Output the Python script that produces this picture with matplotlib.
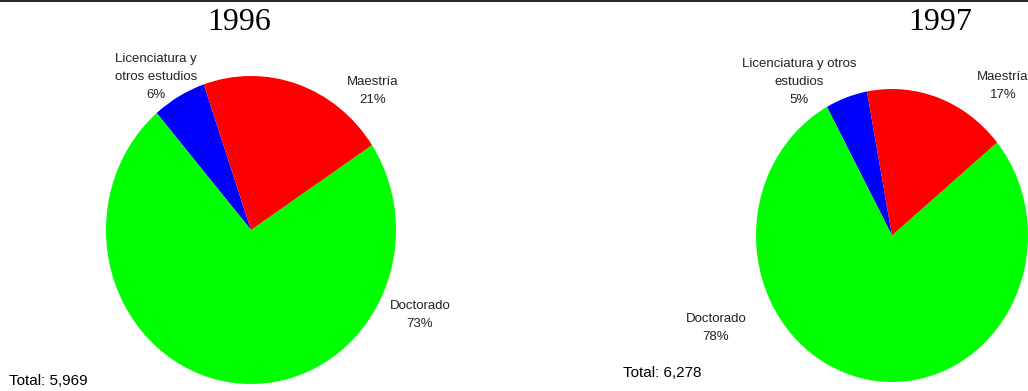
import matplotlib.pyplot as plt
from matplotlib.lines import Line2D

W, H = 1028, 391

categories = ['Licenciatura y otros estudios', 'Doctorado', 'Maestría']
colors = ['#0000FF', '#00FF00', '#FF0000']

years = ['1996', '1997']
counts_1996 = [358, 4358, 1253]
counts_1997 = [314, 4897, 1067]
totals = ['5,969', '6,278']

# label text as it appears in each chart
labels_1996 = ['Licenciatura y\notros estudios', 'Doctorado', 'Maestría']
labels_1997 = ['Licenciatura y otros\nestudios', 'Doctorado', 'Maestría']


def px(x, y):
    return x / W, 1 - y / H


def box(x0, y0, x1, y1):
    return [x0 / W, 1 - y1 / H, (x1 - x0) / W, (y1 - y0) / H]


plt.rcParams['font.family'] = ['Liberation Sans', 'DejaVu Sans']
fig = plt.figure(figsize=(W / 100, H / 100), dpi=100)

pies = [
    (counts_1996, labels_1996, box(106, 76, 396, 384), 109.0),
    (counts_1997, labels_1997, box(756, 89, 1028, 382), 100.6),
]
for counts, labs, pos, start in pies:
    ax = fig.add_axes(pos)
    ax.pie(counts, colors=colors, startangle=start, counterclock=True,
           wedgeprops=dict(linewidth=0))
    ax.set_aspect('auto')
    ax.set_xlim(-1, 1)
    ax.set_ylim(-1, 1)
    ax.axis('off')

# titles
fig.text(*px(239, 22), years[0], family='Liberation Serif', fontsize=23,
         ha='center', va='center')
fig.text(*px(940, 22), years[1], family='Liberation Serif', fontsize=23,
         ha='center', va='center')

# slice labels
def pct(counts, i):
    return '%d%%' % round(100 * counts[i] / sum(counts))


label_pos = [
    [(156, 77), (420, 315), (373, 91)],
    [(799, 82), (716, 328), (1003, 86)],
]
for counts, labs, positions in [(counts_1996, labels_1996, label_pos[0]),
                                (counts_1997, labels_1997, label_pos[1])]:
    for i, (x, y) in enumerate(positions):
        fig.text(*px(x, y), labs[i] + '\n' + pct(counts, i), fontsize=9.5,
                 ha='center', va='center', linespacing=1.7, color='#222222')

fig.text(*px(9, 381), 'Total: ' + totals[0], fontsize=11, ha='left', va='center')
fig.text(*px(623, 373), 'Total: ' + totals[1], fontsize=11, ha='left', va='center')

fig.add_artist(Line2D([0, 1], [1 - 0.5 / H, 1 - 0.5 / H], color='black',
                      linewidth=1.2, transform=fig.transFigure))

fig.savefig('out.png', dpi=100)
